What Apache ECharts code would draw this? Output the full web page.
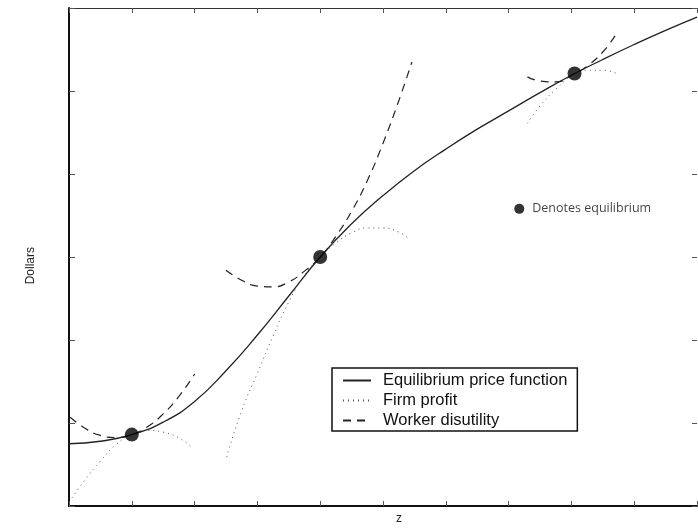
<!DOCTYPE html>
<html>
<head>
<meta charset="utf-8">
<script src="https://cdn.jsdelivr.net/npm/echarts@6/dist/echarts.min.js"></script>
<style>
html,body{margin:0;padding:0;background:#fff;}
#chart{width:698px;height:530px;}
</style>
</head>
<body>
<div id="chart"></div>
<script>
// Equilibrium price function
const priceX = [0, 0.5, 1, 1.5, 2, 2.5, 3, 3.5, 4, 4.5, 5, 5.5, 6, 6.5, 7, 7.5, 8, 8.5, 9, 9.5, 10];
const priceY = [0.75, 0.78, 0.86, 1.01, 1.26, 1.63, 2.06, 2.53, 3.0, 3.40, 3.74, 4.04, 4.30, 4.54, 4.76, 4.98, 5.19, 5.38, 5.56, 5.73, 5.89];

// Worker disutility (dashed) segments
const worker1 = [[0.02, 1.07], [0.25, 0.94], [0.5, 0.85], [0.75, 0.825], [1.0, 0.86], [1.25, 0.955], [1.5, 1.11], [1.75, 1.32], [2.0, 1.59]];
const worker2 = [[2.5, 2.84], [2.75, 2.72], [3.0, 2.65], [3.25, 2.64], [3.5, 2.7], [3.75, 2.83], [4.0, 3.0], [4.25, 3.25], [4.5, 3.55], [4.75, 3.92], [5.0, 4.37], [5.25, 4.88], [5.46, 5.35]];
const worker3 = [[7.3, 5.17], [7.5, 5.12], [7.75, 5.11], [8.05, 5.21], [8.25, 5.3], [8.5, 5.47], [8.7, 5.67]];

// Firm profit (dotted) segments
const profit1 = [[0.05, 0.1], [0.25, 0.31], [0.5, 0.54], [0.75, 0.74], [1.0, 0.86], [1.25, 0.91], [1.5, 0.89], [1.75, 0.82], [1.95, 0.71]];
const profit2 = [[2.51, 0.59], [2.75, 1.15], [3.0, 1.6], [3.25, 2.05], [3.5, 2.46], [3.75, 2.78], [4.0, 3.0], [4.25, 3.17], [4.5, 3.29], [4.75, 3.35], [5.0, 3.35], [5.25, 3.3], [5.41, 3.22]];
const profit3 = [[7.3, 4.61], [7.5, 4.82], [7.75, 5.02], [8.05, 5.21], [8.25, 5.25], [8.5, 5.25], [8.75, 5.2]];

// Equilibrium points
const equilibria = [[1.0, 0.86], [4.0, 3.0], [8.05, 5.21]];
const keyPoint = [[7.17, 3.58]];
const keyLabel = 'Denotes equilibrium';

const seriesNames = ['Equilibrium price function', 'Firm profit', 'Worker disutility'];
const axisTitles = { x: 'z', y: 'Dollars' };

const solidStyle = { color: '#222', width: 1.3, type: 'solid' };
const dotStyle = { color: '#555', width: 1, type: [1, 4] };
const dashStyle = { color: '#222', width: 1.2, type: [8, 6] };

function lineSeries(name, data, style) {
  return {
    name: name, type: 'line', data: data, smooth: 0.5, symbol: 'none',
    lineStyle: style, itemStyle: { color: style.color }, silent: true,
    z: 2
  };
}

const series = [
  lineSeries(seriesNames[0], priceX.map((x, i) => [x, priceY[i]]), solidStyle),
  lineSeries(seriesNames[1], profit1, dotStyle),
  lineSeries(seriesNames[1], profit2, dotStyle),
  lineSeries(seriesNames[1], profit3, dotStyle),
  lineSeries(seriesNames[2], worker1, dashStyle),
  lineSeries(seriesNames[2], worker2, dashStyle),
  lineSeries(seriesNames[2], worker3, dashStyle),
  {
    name: 'eq', type: 'scatter', data: equilibria, symbolSize: 14,
    itemStyle: { color: '#000' }, z: 5, silent: true
  },
  {
    name: 'key', type: 'scatter', data: keyPoint, symbolSize: 10,
    itemStyle: { color: '#000' }, z: 5, silent: true,
    label: { show: true, position: 'right', distance: 8, formatter: keyLabel,
      color: '#111', fontSize: 12.5, fontFamily: 'Open Sans' }
  }
];

const tickStyle = { color: '#555', width: 1 };

const chart = echarts.init(document.getElementById('chart'), null, { renderer: 'canvas' });
chart.setOption({
  animation: false,
  backgroundColor: '#fff',
  grid: { left: 69, right: 1, top: 8, bottom: 24, containLabel: false, outerBoundsMode: 'none' },
  legend: {
    data: seriesNames,
    orient: 'vertical',
    left: 332, top: 368,
    itemWidth: 28, itemHeight: 14, itemGap: 3,
    padding: [4, 10, 2, 10],
    borderColor: '#111', borderWidth: 1.5,
    backgroundColor: '#fff',
    itemStyle: { opacity: 0 },
    textStyle: { fontSize: 16.5, lineHeight: 14, fontFamily: 'Liberation Sans', color: '#111', padding: [0, 0, 0, 7] },
    selectedMode: false
  },
  graphic: [
    { type: 'text', left: 25, top: 247, rotation: Math.PI / 2,
      style: { text: axisTitles.y, fontSize: 12, fontFamily: 'Liberation Sans', fill: '#222' } },
    { type: 'text', left: 396, top: 513,
      style: { text: axisTitles.x, fontSize: 12, fontFamily: 'Liberation Sans', fill: '#222' } }
  ],
  xAxis: [
    {
      type: 'value', min: 0, max: 10, interval: 1, position: 'bottom',
      axisLine: { show: true, onZero: false, lineStyle: { color: '#111', width: 2 } },
      axisTick: { show: true, inside: true, length: 5, lineStyle: tickStyle },
      axisLabel: { show: false }, splitLine: { show: false }
    },
    {
      type: 'value', min: 0, max: 10, interval: 1, position: 'top',
      axisLine: { show: true, onZero: false, lineStyle: { color: '#333', width: 1 } },
      axisTick: { show: true, inside: true, length: 5, lineStyle: tickStyle },
      axisLabel: { show: false }, splitLine: { show: false }
    }
  ],
  yAxis: [
    {
      type: 'value', min: 0, max: 6, interval: 1, position: 'left',
      axisLine: { show: true, onZero: false, lineStyle: { color: '#111', width: 2 } },
      axisTick: { show: true, inside: true, length: 6, lineStyle: tickStyle },
      axisLabel: { show: false }, splitLine: { show: false }
    },
    {
      type: 'value', min: 0, max: 6, interval: 1, position: 'right',
      axisLine: { show: false, onZero: false },
      axisTick: { show: true, inside: true, length: 5, lineStyle: tickStyle },
      axisLabel: { show: false }, splitLine: { show: false }
    }
  ],
  series: series
});
</script>
</body>
</html>
